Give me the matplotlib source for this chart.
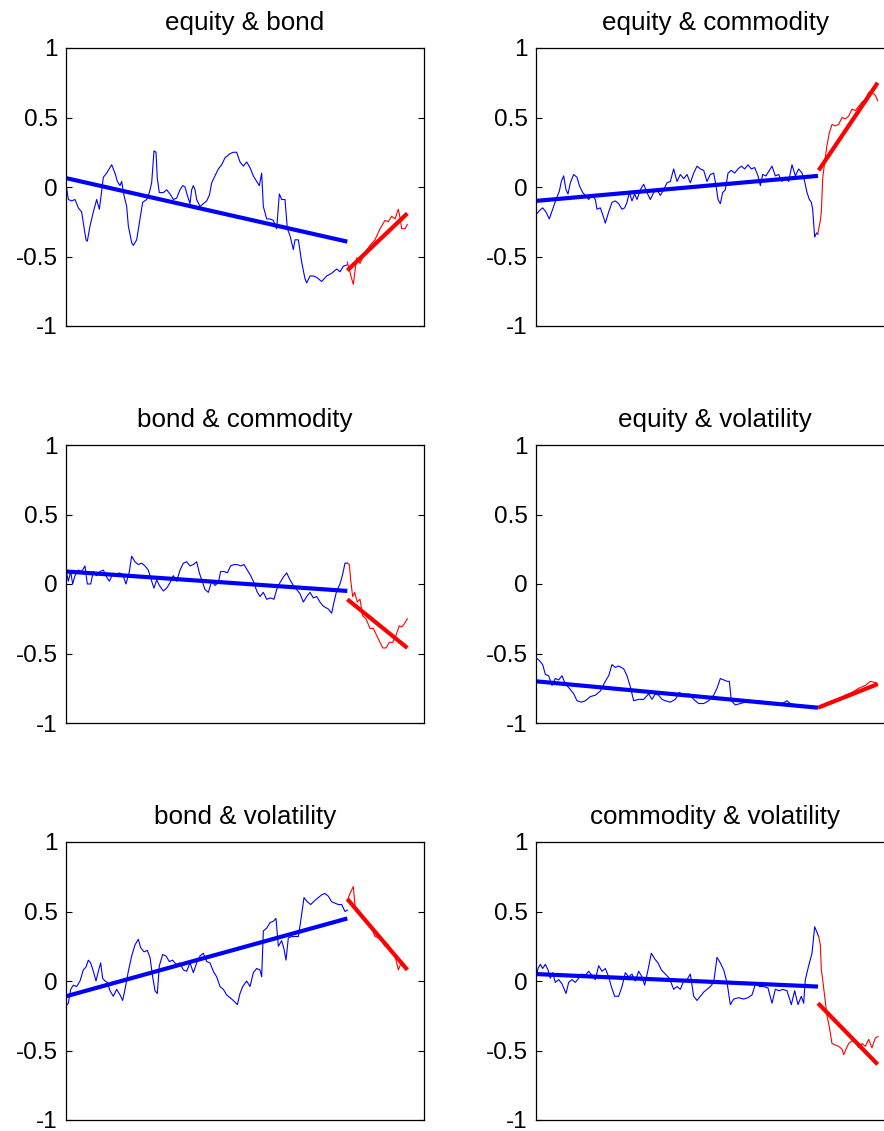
import matplotlib
matplotlib.use("Agg")
import matplotlib.pyplot as plt
import numpy as np

plt.rcParams["font.family"] = ["Liberation Sans", "DejaVu Sans"]

# observation index runs 0..1074 across each panel; blue = in-sample, red = later window
n_obs = 1074

titles = ["equity & bond", "equity & commodity", "bond & commodity",
          "equity & volatility", "bond & volatility", "commodity & volatility"]

# ---- equity & bond ----
eb_blue = [(0, 0.02), (7, -0.09), (17, -0.10), (27, -0.09), (37, -0.15), (47, -0.18), (52, -0.26),
           (60, -0.38), (64, -0.39), (72, -0.28), (82, -0.18), (92, -0.09), (100, -0.16), (107, -0.03),
           (112, 0.07), (122, 0.10), (137, 0.16), (147, 0.10), (154, 0.04), (162, 0.01), (167, 0.04),
           (174, -0.06), (182, -0.14), (187, -0.28), (197, -0.40), (202, -0.42), (212, -0.38), (222, -0.23),
           (230, -0.11), (242, -0.09), (250, -0.04), (257, 0.03), (264, 0.26), (270, 0.25), (274, 0.06),
           (280, -0.04), (292, -0.04), (302, -0.02), (312, -0.05), (322, -0.09), (332, -0.08), (342, -0.02),
           (350, 0.01), (357, 0.0), (364, -0.06), (372, -0.12), (377, -0.02), (382, 0.01), (387, -0.02),
           (392, -0.09), (402, -0.14), (412, -0.12), (422, -0.10), (430, -0.06), (437, 0.03), (447, 0.08),
           (457, 0.13), (467, 0.16), (477, 0.21), (492, 0.24), (502, 0.25), (512, 0.25), (522, 0.18),
           (532, 0.15), (542, 0.18), (552, 0.14), (562, 0.08), (572, 0.04), (580, 0.01), (587, 0.10),
           (592, -0.14), (602, -0.23), (612, -0.23), (622, -0.24), (632, -0.30), (640, -0.05), (647, -0.09),
           (657, -0.09), (664, -0.30), (672, -0.35), (682, -0.45), (687, -0.38), (697, -0.38), (707, -0.54),
           (717, -0.66), (722, -0.69), (732, -0.64), (742, -0.64), (752, -0.65), (767, -0.68), (782, -0.64),
           (797, -0.62), (812, -0.59), (822, -0.61), (832, -0.57), (844, -0.56)]
eb_red = [(844, -0.54), (857, -0.66), (862, -0.70), (872, -0.51), (882, -0.55), (897, -0.47), (912, -0.42),
          (927, -0.38), (942, -0.30), (957, -0.24), (967, -0.25), (977, -0.21), (987, -0.23), (997, -0.16),
          (1002, -0.22), (1007, -0.30), (1017, -0.30), (1024, -0.27)]
eb_fit_blue = [(0, 0.064), (844, -0.393)]
eb_fit_red = [(844, -0.60), (1024, -0.19)]

# ---- equity & commodity ----
ec_blue = [(0, -0.20), (10, -0.17), (20, -0.15), (30, -0.18), (40, -0.23), (50, -0.16), (60, -0.09),
           (70, -0.03), (76, 0.04), (83, 0.08), (90, -0.02), (96, -0.05), (103, 0.03), (113, 0.09),
           (123, 0.07), (130, 0.01), (140, -0.04), (148, -0.06), (158, -0.09), (168, -0.06), (178, -0.09),
           (183, -0.16), (193, -0.15), (203, -0.22), (208, -0.26), (218, -0.18), (228, -0.11), (238, -0.10),
           (248, -0.12), (258, -0.16), (266, -0.15), (273, -0.11), (280, -0.04), (288, -0.10), (296, -0.05),
           (303, -0.09), (313, -0.02), (323, 0.02), (333, -0.04), (343, -0.09), (353, -0.04), (363, -0.02),
           (373, -0.06), (383, -0.02), (393, 0.03), (403, 0.04), (413, 0.13), (423, 0.04), (433, 0.09),
           (443, 0.06), (453, 0.09), (463, 0.03), (473, 0.10), (483, 0.15), (493, 0.13), (503, 0.12),
           (513, 0.04), (523, 0.09), (533, 0.10), (540, 0.01), (546, -0.09), (553, -0.12), (560, -0.04),
           (568, -0.02), (576, 0.10), (586, 0.12), (596, 0.10), (606, 0.13), (616, 0.15), (626, 0.13),
           (636, 0.16), (646, 0.13), (656, 0.14), (666, 0.08), (673, 0.01), (680, 0.09), (690, 0.08),
           (700, 0.12), (708, 0.15), (718, 0.08), (728, 0.09), (738, 0.04), (748, 0.07), (758, 0.04),
           (768, 0.16), (778, 0.08), (788, 0.13), (798, 0.10), (806, 0.04), (813, -0.04), (820, -0.09),
           (826, -0.11), (830, -0.16), (836, -0.36), (842, -0.33), (846, -0.34)]
ec_red = [(846, -0.33), (853, -0.24), (856, -0.18), (860, 0.06), (866, 0.18), (873, 0.30), (880, 0.39),
          (888, 0.45), (898, 0.44), (908, 0.45), (918, 0.50), (928, 0.49), (938, 0.51), (948, 0.56),
          (958, 0.55), (968, 0.58), (978, 0.61), (988, 0.63), (998, 0.68), (1008, 0.68), (1018, 0.66),
          (1025, 0.62)]
ec_fit_blue = [(0, -0.10), (846, 0.08)]
ec_fit_red = [(848, 0.12), (1025, 0.75)]

# ---- bond & commodity ----
bc_blue = [(0, 0.10), (7, 0.02), (14, 0.09), (20, 0.0), (27, 0.06), (37, 0.10), (47, 0.09), (57, 0.13),
           (64, 0.0), (74, 0.0), (82, 0.09), (92, 0.06), (102, 0.09), (112, 0.10), (122, 0.05), (130, 0.02),
           (140, 0.07), (150, 0.07), (160, 0.08), (170, 0.07), (180, 0.0), (190, 0.09), (197, 0.20),
           (207, 0.16), (217, 0.14), (227, 0.15), (237, 0.13), (247, 0.10), (257, 0.02), (264, -0.03),
           (272, 0.03), (280, -0.01), (292, -0.05), (302, -0.03), (312, 0.01), (322, 0.06), (332, 0.02),
           (342, 0.10), (352, 0.15), (362, 0.16), (372, 0.13), (382, 0.14), (392, 0.16), (400, 0.08),
           (410, 0.01), (417, -0.04), (427, -0.06), (437, 0.02), (447, -0.01), (457, 0.01), (464, 0.09),
           (474, 0.09), (484, 0.08), (494, 0.13), (504, 0.14), (514, 0.14), (524, 0.13), (534, 0.14),
           (544, 0.10), (554, 0.06), (564, 0.01), (572, -0.05), (582, -0.09), (592, -0.06), (602, -0.11),
           (614, -0.10), (624, -0.11), (632, -0.04), (642, 0.01), (652, 0.05), (662, 0.08), (672, 0.03),
           (682, -0.01), (692, -0.04), (702, -0.07), (712, -0.13), (722, -0.09), (732, -0.06), (742, -0.10),
           (752, -0.09), (762, -0.13), (772, -0.16), (787, -0.18), (797, -0.21), (804, -0.13), (812, -0.05),
           (822, 0.0), (830, 0.07), (837, 0.15), (844, 0.15)]
bc_red = [(844, 0.15), (850, 0.14), (854, 0.03), (860, -0.09), (866, -0.06), (874, -0.13), (882, -0.11),
          (890, -0.23), (900, -0.25), (912, -0.32), (922, -0.32), (932, -0.37), (942, -0.42), (950, -0.46),
          (960, -0.46), (970, -0.42), (980, -0.42), (990, -0.37), (1000, -0.30), (1007, -0.31),
          (1014, -0.29), (1024, -0.25)]
bc_fit_blue = [(0, 0.09), (844, -0.05)]
bc_fit_red = [(844, -0.11), (1024, -0.46)]

# ---- equity & volatility ----
ev_blue = [(0, -0.53), (10, -0.55), (20, -0.58), (28, -0.65), (38, -0.66), (48, -0.73), (58, -0.68),
           (68, -0.69), (78, -0.66), (88, -0.72), (100, -0.75), (113, -0.79), (123, -0.84), (136, -0.85),
           (148, -0.84), (163, -0.81), (178, -0.80), (193, -0.77), (208, -0.70), (218, -0.66), (228, -0.58),
           (238, -0.60), (248, -0.59), (263, -0.61), (273, -0.66), (283, -0.74), (293, -0.84), (308, -0.83),
           (323, -0.83), (338, -0.79), (348, -0.83), (358, -0.79), (368, -0.80), (378, -0.83), (388, -0.84),
           (403, -0.85), (418, -0.83), (430, -0.78), (443, -0.80), (458, -0.79), (473, -0.83), (488, -0.86),
           (503, -0.86), (518, -0.84), (533, -0.80), (543, -0.75), (553, -0.68), (563, -0.69), (573, -0.70),
           (580, -0.70), (586, -0.84), (598, -0.87), (613, -0.86), (628, -0.85), (648, -0.85), (668, -0.84),
           (688, -0.85), (708, -0.86), (723, -0.87), (738, -0.86), (753, -0.84), (763, -0.86), (778, -0.87),
           (798, -0.88), (818, -0.88), (846, -0.89)]
ev_red = [(846, -0.89), (868, -0.86), (888, -0.84), (908, -0.83), (928, -0.80), (948, -0.78), (968, -0.75),
          (988, -0.73), (1003, -0.70), (1018, -0.71), (1025, -0.72)]
ev_fit_blue = [(0, -0.70), (846, -0.89)]
ev_fit_red = [(846, -0.89), (1025, -0.72)]

# ---- bond & volatility ----
bv_blue = [(0, -0.18), (7, -0.16), (14, -0.06), (22, -0.03), (32, -0.04), (42, 0.0), (52, 0.08), (60, 0.10),
           (67, 0.15), (74, 0.13), (82, 0.07), (90, 0.0), (97, 0.07), (104, 0.13), (110, 0.02), (117, 0.0),
           (124, -0.01), (132, -0.07), (142, -0.11), (152, -0.06), (162, -0.10), (170, -0.14), (177, -0.06),
           (187, 0.07), (197, 0.18), (207, 0.26), (217, 0.30), (224, 0.24), (234, 0.21), (244, 0.22),
           (252, 0.17), (260, 0.03), (267, -0.07), (274, -0.09), (280, 0.11), (290, 0.19), (300, 0.18),
           (310, 0.14), (320, 0.15), (330, 0.12), (342, 0.13), (352, 0.08), (362, 0.07), (372, 0.13),
           (382, 0.06), (392, 0.13), (402, 0.18), (412, 0.20), (422, 0.14), (432, 0.13), (442, 0.07),
           (452, 0.03), (462, -0.04), (472, -0.06), (482, -0.10), (492, -0.12), (502, -0.14), (514, -0.17),
           (522, -0.09), (530, -0.04), (542, 0.0), (552, -0.04), (562, 0.06), (572, 0.09), (582, 0.08),
           (587, 0.03), (592, 0.36), (602, 0.38), (612, 0.42), (622, 0.43), (630, 0.45), (637, 0.25),
           (647, 0.29), (654, 0.23), (660, 0.15), (667, 0.31), (677, 0.32), (687, 0.32), (697, 0.32),
           (704, 0.43), (714, 0.60), (724, 0.57), (734, 0.55), (747, 0.58), (757, 0.60), (767, 0.62),
           (777, 0.63), (787, 0.61), (797, 0.57), (807, 0.56), (817, 0.55), (827, 0.55), (837, 0.50),
           (844, 0.51)]
bv_red = [(844, 0.58), (852, 0.63), (862, 0.68), (867, 0.54), (877, 0.51), (887, 0.48), (897, 0.43),
          (907, 0.41), (917, 0.38), (927, 0.32), (937, 0.31), (947, 0.30), (957, 0.25), (967, 0.26),
          (977, 0.20), (987, 0.18), (997, 0.08), (1007, 0.14), (1017, 0.11), (1024, 0.09)]
bv_fit_blue = [(0, -0.11), (844, 0.45)]
bv_fit_red = [(844, 0.59), (1024, 0.08)]

# ---- commodity & volatility ----
cv_blue = [(0, 0.01), (6, 0.09), (13, 0.12), (20, 0.09), (28, 0.12), (36, 0.08), (43, 0.02), (50, 0.06),
           (58, -0.01), (68, 0.01), (78, -0.02), (90, -0.09), (98, -0.01), (108, 0.01), (118, -0.01),
           (128, 0.02), (138, 0.05), (148, 0.04), (158, 0.07), (168, 0.04), (178, 0.01), (188, 0.11),
           (198, 0.07), (208, 0.09), (218, 0.03), (226, -0.04), (236, -0.11), (248, -0.11), (258, -0.04),
           (268, 0.06), (278, 0.03), (288, 0.05), (298, 0.0), (308, 0.07), (318, 0.03), (326, -0.03),
           (336, 0.08), (346, 0.20), (356, 0.16), (366, 0.13), (376, 0.08), (388, 0.05), (400, 0.02),
           (413, -0.06), (423, -0.04), (433, -0.06), (443, 0.0), (453, 0.01), (463, 0.05), (473, -0.11),
           (483, -0.14), (493, -0.11), (503, -0.08), (513, -0.06), (523, -0.04), (533, -0.01), (543, 0.17),
           (553, 0.13), (563, 0.08), (573, -0.01), (583, -0.17), (593, -0.13), (608, -0.12), (623, -0.13),
           (636, -0.12), (648, -0.10), (660, -0.01), (670, -0.04), (683, -0.04), (696, -0.05), (708, -0.16),
           (718, -0.06), (730, -0.07), (740, -0.06), (753, -0.07), (766, -0.17), (776, -0.07), (786, -0.17),
           (796, -0.11), (803, -0.16), (808, 0.01), (818, 0.11), (828, 0.20), (836, 0.39), (843, 0.35),
           (848, 0.32)]
cv_red = [(848, 0.32), (853, 0.26), (856, 0.08), (860, 0.01), (866, -0.11), (873, -0.25), (880, -0.33),
          (888, -0.45), (898, -0.46), (908, -0.47), (918, -0.49), (923, -0.53), (930, -0.49), (938, -0.45),
          (948, -0.43), (958, -0.44), (968, -0.48), (978, -0.45), (988, -0.47), (998, -0.42), (1008, -0.48),
          (1018, -0.41), (1026, -0.40)]
cv_fit_blue = [(0, 0.05), (846, -0.04)]
cv_fit_red = [(846, -0.16), (1025, -0.60)]

panels = [
    (eb_blue, eb_red, eb_fit_blue, eb_fit_red),
    (ec_blue, ec_red, ec_fit_blue, ec_fit_red),
    (bc_blue, bc_red, bc_fit_blue, bc_fit_red),
    (ev_blue, ev_red, ev_fit_blue, ev_fit_red),
    (bv_blue, bv_red, bv_fit_blue, bv_fit_red),
    (cv_blue, cv_red, cv_fit_blue, cv_fit_red),
]

W, H = 884, 1131
fig = plt.figure(figsize=(W / 100, H / 100), dpi=100)

col_left = [66, 536]
row_top = [48, 445, 842]
ax_w, ax_h = 358, 278

for i, (title, series) in enumerate(zip(titles, panels)):
    r, c = divmod(i, 2)
    rect = [col_left[c] / W, 1 - (row_top[r] + ax_h) / H, ax_w / W, ax_h / H]
    ax = fig.add_axes(rect)
    blue, red, fit_b, fit_r = [np.array(s) for s in series]
    ax.plot(blue[:, 0], blue[:, 1], color="#0000ff", lw=0.8)
    ax.plot(red[:, 0], red[:, 1], color="#ff0000", lw=0.8)
    ax.plot(fit_b[:, 0], fit_b[:, 1], color="#0000ff", lw=3.0, solid_capstyle="butt")
    ax.plot(fit_r[:, 0], fit_r[:, 1], color="#ff0000", lw=3.0, solid_capstyle="butt")
    ax.set_xlim(0, n_obs)
    ax.set_ylim(-1, 1)
    ax.set_xticks([])
    ax.set_yticks([-1, -0.5, 0, 0.5, 1])
    ax.set_yticklabels(["-1", "-0.5", "0", "0.5", "1"])
    ax.tick_params(axis="y", direction="in", length=4, width=0.8, right=True,
                   labelsize=17.5, pad=6)
    for sp in ax.spines.values():
        sp.set_linewidth(0.9)
    ax.set_title(title, fontsize=18.7, pad=13)

fig.savefig("out.png", dpi=100)
